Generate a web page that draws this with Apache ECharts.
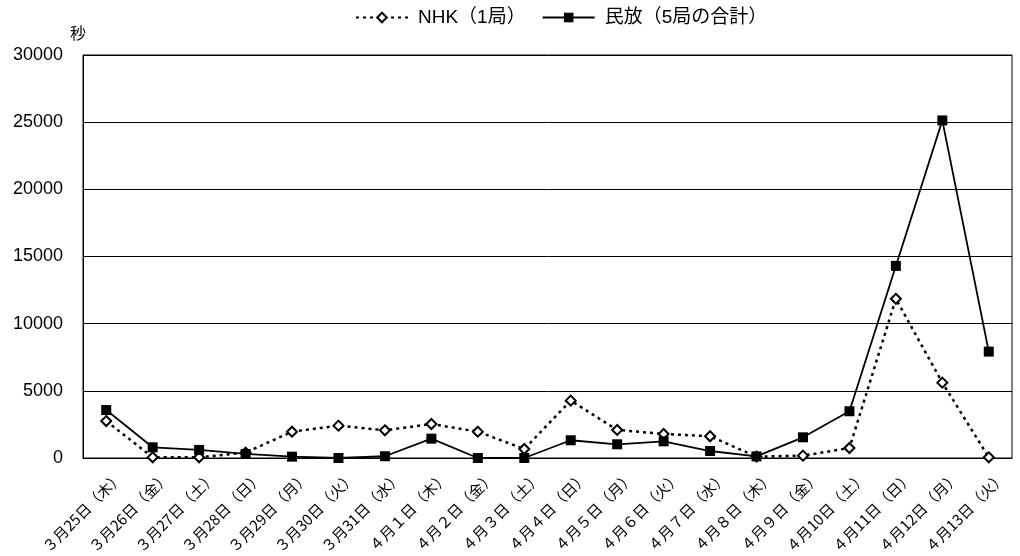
<!DOCTYPE html>
<html>
<head>
<meta charset="utf-8">
<script src="https://cdn.jsdelivr.net/npm/echarts@6/dist/echarts.min.js"></script>
<style>
html,body{margin:0;padding:0;background:#fff;}
#c{width:1020px;height:556px;}
</style>
</head>
<body>
<div id="c"></div>
<script>
var categories = ["３月25日（木）","３月26日（金）","３月27日（土）","３月28日（日）","３月29日（月）","３月30日（火）","３月31日（水）","４月１日（木）","４月２日（金）","４月３日（土）","４月４日（日）","４月５日（月）","４月６日（火）","４月７日（水）","４月８日（木）","４月９日（金）","４月10日（土）","４月11日（日）","４月12日（月）","４月13日（火）"];
var nhkValues = [2750, 50, 50, 400, 1960, 2410, 2060, 2530, 1960, 670, 4270, 2090, 1790, 1620, 100, 175, 745, 11850, 5610, 50];
var minpoValues = [3570, 795, 600, 300, 100, 0, 130, 1440, 0, 0, 1320, 1020, 1240, 520, 120, 1540, 3480, 14300, 25130, 7920];
var yTicks = {min: 0, max: 30000, interval: 5000};
var seriesNames = ["NHK（1局）", "民放（5局の合計）"];
var yName = "秒";

var FONT = "Liberation Sans, Arial, 'Noto Sans CJK JP', sans-serif";
var chart = echarts.init(document.getElementById('c'));
chart.setOption({
  backgroundColor: '#fff',
  animation: false,
  textStyle: {fontFamily: FONT, color: '#000'},
  legend: {
    top: 3,
    left: 350,
    itemWidth: 52,
    itemHeight: 12,
    itemGap: 16,
    textStyle: {fontFamily: FONT, fontSize: 19, color: '#000', padding: [0, 0, 0, 5]},
    data: seriesNames
  },
  grid: {
    left: 83, right: 8, top: 55, bottom: 98,
    show: true, borderColor: '#000', borderWidth: 1,
    containLabel: false,
    outerBoundsMode: 'none'
  },
  xAxis: {
    type: 'category',
    data: categories,
    boundaryGap: true,
    axisLine: {lineStyle: {color: '#000', width: 1}},
    axisTick: {inside: true, length: 6, lineStyle: {color: '#000'}},
    axisLabel: {rotate: 45, fontSize: 15, color: '#000', margin: 2, interval: 0,
      verticalAlign: 'top', lineHeight: 40,
      fontFamily: "'Noto Sans CJK JP', sans-serif"}
  },
  yAxis: {
    type: 'value',
    min: yTicks.min, max: yTicks.max, interval: yTicks.interval,
    name: yName,
    nameLocation: 'end',
    nameGap: 14,
    nameTextStyle: {fontSize: 16, color: '#000', padding: [0, 10, 0, 0], fontFamily: "'Noto Sans CJK JP', sans-serif"},
    axisLine: {show: true, lineStyle: {color: '#000', width: 1}},
    axisTick: {show: true, inside: true, length: 5, lineStyle: {color: '#000'}},
    axisLabel: {fontSize: 18, color: '#000', margin: 20, formatter: function (v) { return String(v); }},
    splitLine: {show: true, lineStyle: {color: '#000', width: 1}}
  },
  series: [
    {
      name: seriesNames[0],
      type: 'line',
      data: nhkValues,
      symbol: 'diamond',
      symbolSize: 10,
      itemStyle: {color: '#fff', borderColor: '#000', borderWidth: 2},
      lineStyle: {color: '#000', width: 2.5, type: [3, 4]},
      z: 3
    },
    {
      name: seriesNames[1],
      type: 'line',
      data: minpoValues,
      symbol: 'rect',
      symbolSize: 10,
      itemStyle: {color: '#000', borderColor: '#000', borderWidth: 0},
      lineStyle: {color: '#000', width: 1.8},
      z: 4
    }
  ]
});
</script>
</body>
</html>
